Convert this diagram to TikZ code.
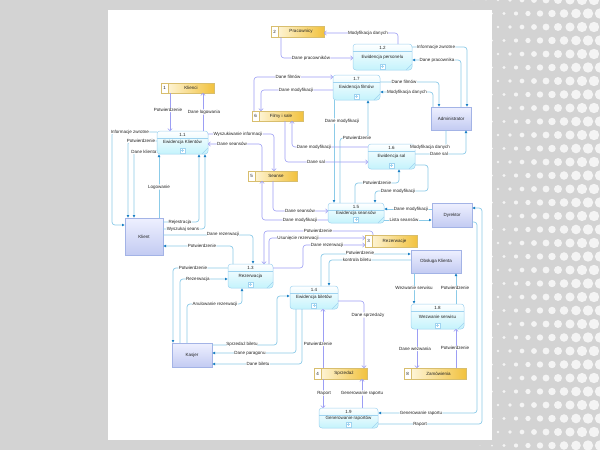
\documentclass[tikz,border=0pt]{standalone}
\usepackage{fontspec}
\setmainfont{Liberation Sans}
\usetikzlibrary{arrows.meta,calc}
\definecolor{bggray}{HTML}{D3D3D3}
\definecolor{dotcol}{HTML}{F4F4F4}
\definecolor{txtcol}{HTML}{222222}
\definecolor{procborder}{HTML}{9FD3F0}
\definecolor{procfill}{HTML}{C4F3FC}
\definecolor{entborder}{HTML}{A3B3E6}
\definecolor{enttop}{HTML}{EEF0FF}
\definecolor{entbot}{HTML}{C3CBF2}
\definecolor{stborder}{HTML}{D8BE6E}
\definecolor{stleft}{HTML}{FFFBEA}
\definecolor{stright}{HTML}{F2C23E}
\definecolor{blueline}{HTML}{8CCBE8}
\definecolor{bluearrow}{HTML}{1A7FC4}
\definecolor{purpline}{HTML}{9C9EF4}

\newcommand\procnode[7]{%
  \node[procshape, minimum width={(#4-#2)*1pt}, minimum height={(#5-#3)*1pt}] (#1) at ({(#2+#4)/2},{(#3+#5)/2}) {};
  \draw[procsep] ([yshift=-6.8pt]#1.north west) -- ([yshift=-6.8pt]#1.north east);
  \node[txt] at ([yshift=-3.6pt]#1.north) {#6};
  \node[txt] at ([yshift=-0.3pt]#1.center) {#7};
  \node[plusbox] at ([yshift=3.6pt]#1.south) {};
  \draw[procsep] ([yshift=3.6pt,xshift=-1.5pt]#1.south) -- ([yshift=3.6pt,xshift=1.5pt]#1.south);
  \draw[procsep] ([yshift=2.1pt]#1.south) -- ([yshift=5.1pt]#1.south);
  \draw[procsep] ([xshift=-6pt]#1.south east) -- ([yshift=6pt]#1.south east);
}
\newcommand\storenode[7]{%
  \node[stshape, minimum width={(#4-#2)*1pt}, minimum height={(#5-#3)*1pt}] (#1) at ({(#2+#4)/2},{(#3+#5)/2}) {};
  \fill[white] (#1.north west) rectangle ([xshift=7pt]#1.south west);
  \draw[stborder,line width=0.5pt] (#1.north west) rectangle (#1.south east);
  \draw[stborder,line width=0.5pt] ([xshift=7pt]#1.north west) -- ([xshift=7pt]#1.south west);
  \node[txt] at ([xshift=3.5pt]#1.west) {#6};
  \node[txt] at ([xshift=3.5pt]#1.center) {#7};
}
\newcommand\entnode[6]{%
  \node[entshape, minimum width={(#4-#2)*1pt}, minimum height={(#5-#3)*1pt}] (#1) at ({(#2+#4)/2},{(#3+#5)/2}) {};
  \node[txt] at (#1.center) {#6};
}

\begin{document}
\begin{tikzpicture}[x=1pt,y=-1pt,
  txt/.style={font=\fontsize{4.5}{5}\selectfont, text=txtcol, inner sep=0pt},
  lbl/.style={font=\fontsize{4.5}{5}\selectfont, text=txtcol, fill=white, inner sep=0.5pt},
  procshape/.style={draw=procborder, line width=0.5pt, rounded corners=3pt, top color=white, bottom color=procfill, inner sep=0pt, outer sep=0pt},
  procsep/.style={draw=procborder, line width=0.4pt},
  plusbox/.style={draw=procborder, line width=0.4pt, fill=white, minimum size=5pt, inner sep=0pt},
  stshape/.style={draw=stborder, line width=0.5pt, left color=stleft, right color=stright, inner sep=0pt, outer sep=0pt},
  entshape/.style={draw=entborder, line width=0.6pt, top color=enttop, bottom color=entbot, inner sep=0pt, outer sep=0pt},
  bf/.style={draw=blueline, line width=0.7pt, rounded corners=3pt, -{Latex[length=3pt,width=2.8pt,color=bluearrow]}},
  vf/.style={draw=purpline, line width=0.6pt, rounded corners=3pt, -{Straight Barb[length=2pt,width=4.4pt,line width=0.6pt]}}
]
\useasboundingbox (0,0) rectangle (600,450);
\fill[bggray] (0,0) rectangle (600,450);
\foreach \j in {0,...,33} {
  \foreach \i in {0,...,10} {
    \pgfmathsetmacro\xx{474+\i*12+mod(\j,2)*6}
    \pgfmathsetmacro\yy{\j*13.5}
    \pgfmathsetmacro\rr{max(0.4,min(5.2,(\xx-470)/22))}
    \fill[dotcol] (\xx,\yy) circle[radius=\rr];
  }
}
\fill[white] (108,10) rectangle (492,440);

% processes
\procnode{p12}{353}{44}{412}{70}{1.2}{Ewidencja personelu}
\procnode{p17}{333}{75}{380}{100}{1.7}{Ewidencja filmów}
\procnode{p11}{157}{131}{208}{154}{1.1}{Ewidencja Klientów}
\procnode{p16}{368}{144}{415}{169}{1.6}{Ewidencja sal}
\procnode{p15}{328}{203}{384}{223}{1.5}{Ewidencja seansów}
\procnode{p13}{228}{264}{273}{288}{1.3}{Rezerwacja}
\procnode{p14}{290}{286}{338}{309}{1.4}{Ewidencja biletów}
\procnode{p18}{411}{304}{464}{329}{1.8}{Wezwanie serwisu}
\procnode{p19}{319}{408}{378}{428}{1.9}{Generowanie raportów}

% entities
\entnode{admin}{431}{107}{471}{130}{Administrator}
\entnode{dyr}{432}{203}{472}{227}{Dyrektor}
\entnode{klient}{125}{218}{163}{255}{Klient}
\entnode{obs}{411}{250}{461}{273}{Obsługa Klienta}
\entnode{kasjer}{172}{343}{212}{367}{Kasjer}

% stores
\storenode{s2}{271}{26}{324}{37}{2}{Pracownicy}
\storenode{s1}{161}{83}{214}{93}{1}{Klienci}
\storenode{s6}{252}{111}{303}{121}{6}{Filmy i sale}
\storenode{s5}{248}{171}{297}{181}{5}{Seanse}
\storenode{s3}{365}{235}{417}{247}{3}{Rezerwacje}
\storenode{s4}{314}{368}{367}{379}{4}{Sprzedaż}
\storenode{s8}{404}{368}{466}{379}{8}{Zamówienia}

% --- connectors ---
\draw[vf] (p12.north -| 398,0) |- (s2.east |- 0,33) node[lbl] at (368,33) {Modyfikacja danych};
\draw[vf] (s2.south -| 281,0) |- (p12.west |- 0,58) node[lbl] at (311,58) {Dane pracowników};
\draw[bf] (p12.east |- 0,47) -| (admin.north -| 467,0) node[lbl] at (436,47) {Informacje zwrotne};
\draw[bf] (admin.north -| 461,0) |- (p12.east |- 0,60) node[lbl] at (437,60) {Dane pracownika};
\draw[bf] (p17.east |- 0,82) -| (admin.north -| 439,0) node[lbl] at (404,82) {Dane filmów};
\draw[bf] (admin.north -| 433,0) |- (p17.east |- 0,92) node[lbl] at (407,92) {Modyfikacja danych};
\draw[vf] (s6.north -| 254,0) |- (p17.west |- 0,77) node[lbl] at (288,77) {Dane filmów};
\draw[vf] (p17.west |- 0,90) -| (s6.north -| 261,0) node[lbl] at (296,90) {Dane modyfikacji};
\draw[bf] (p17.south -| 334,0) -- (p15.north -| 334,0) node[lbl] at (342,121) {Dane modyfikacji};
\draw[bf] (p15.north -| 340,0) -- (340,138) -| (p17.south -| 368,0) node[lbl] at (357,138) {Potwierdzenie};
\draw[vf] (p16.west |- 0,147) -| (s6.south -| 292,0) node[lbl] at (314,147) {Dane modyfikacji};
\draw[vf] (s6.south -| 285,0) |- (p16.west |- 0,162) node[lbl] at (316,162) {Dane sal};
\draw[bf] (admin.south -| 446,0) |- (p16.east |- 0,147) node[lbl] at (430,147) {Modyfikacja danych};
\draw[bf] (p16.east |- 0,154) -| (admin.south -| 466,0) node[lbl] at (439,154) {Dane sal};
\draw[bf] (p15.north -| 355,0) |- (399,183) -- (p16.south -| 399,0) node[lbl] at (377,183) {Potwierdzenie};
\draw[bf] (p16.east |- 0,165) -| (428,191) -| (p15.north -| 375,0) node[lbl] at (398,191) {Dane modyfikacji};

\draw[vf] (s1.south -| 170,0) -- (p11.north -| 170,0) node[lbl] at (168,110) {Potwierdzenie};
\draw[vf] (p11.north -| 203,0) -- (s1.south -| 203,0) node[lbl] at (204,112) {Dane logowania};
\draw[vf] (p11.east |- 0,134) -| (s5.north -| 274,0) node[lbl] at (238,134) {Wyszukiwanie informacji};
\draw[vf] (s5.north -| 262,0) |- (p11.east |- 0,144) node[lbl] at (232,144) {Dane seansów};
\draw[bf] (p11.west |- 0,132) -| (112,225) -- (klient.west |- 0,225) node[lbl] at (130,132) {Informacje zwrotne};
\draw[bf] (p11.west |- 0,141) -| (klient.north -| 128,0) node[lbl] at (141,141) {Potwierdzenie};
\draw[bf] (p11.west |- 0,151) -| (klient.north -| 134,0) node[lbl] at (144,152) {Dane klienta};
\draw[bf] (klient.north -| 159,0) -- (p11.south -| 159,0) node[lbl] at (159,187) {Logowanie};
\draw[bf] (klient.east |- 0,222) -| (p11.south -| 199,0) node[lbl] at (180,222) {Rejestracja};
\draw[bf] (klient.east |- 0,229) -| (p11.south -| 205,0) node[lbl] at (183,229) {Wyszukaj seans};

\draw[bf] (klient.east |- 0,235) -| (p13.north -| 253,0) node[lbl] at (223,234) {Dane rezerwacji};
\draw[bf] (p13.north -| 233,0) |- (klient.east |- 0,246) node[lbl] at (202,246) {Potwierdzenie};
\draw[bf] (p13.west |- 0,268) -| (kasjer.north -| 173,0) node[lbl] at (193,268) {Potwierdzenie};
\draw[bf] (kasjer.north -| 180,0) |- (p13.west |- 0,279) node[lbl] at (198,279) {Rezerwacja};
\draw[bf] (kasjer.north -| 187,0) |- (242,304) -- (p13.south -| 242,0) node[lbl] at (215,304) {Anulowanie rezerwacji};
\draw[bf] (kasjer.east |- 0,345) -| (277,296) -- (p14.west |- 0,296) node[lbl] at (242,344) {Sprzedaż biletu};
\draw[bf] (p14.south -| 296,0) |- (kasjer.east |- 0,353) node[lbl] at (250,353) {Dane paragonu};
\draw[bf] (p14.south -| 302,0) |- (kasjer.east |- 0,364) node[lbl] at (258,364) {Dane biletu};
\draw[vf] (s4.north -| 323,0) -- (p14.south -| 323,0) node[lbl] at (318,344) {Potwierdzenie};
\draw[vf] (p14.east |- 0,301) -| (s4.north -| 364,0) node[lbl] at (368,315) {Dane sprzedaży};

\draw[vf] (s3.north -| 373,0) |- (264,231) -- (p13.north -| 264,0) node[lbl] at (318,231) {Potwierdzenie};
\draw[vf] (p13.north -| 269,0) |- (s3.west |- 0,238) node[lbl] at (298,238) {Usunięcie rezerwacji};
\draw[vf] (p13.east |- 0,268) -| (303,245) -- (s3.west |- 0,245) node[lbl] at (327,245) {Dane rezerwacji};
\draw[bf] (obs.west |- 0,260) -| (p14.north -| 329,0) node[lbl] at (357,260) {kontrola biletu};
\draw[bf] (p14.north -| 321,0) |- (obs.west |- 0,254) node[lbl] at (360,253) {Potwierdzenie};
\draw[bf] (obs.south -| 414,0) -- (p18.north -| 414,0) node[lbl] at (414,288) {Wezwanie serwisu};
\draw[bf] (p18.north -| 456,0) -- (obs.south -| 456,0) node[lbl] at (455,288) {Potwierdzenie};
\draw[vf] (p18.south -| 417,0) -- (s8.north -| 417,0) node[lbl] at (415,349) {Dane wezwania};
\draw[vf] (s8.north -| 456,0) -- (p18.south -| 456,0) node[lbl] at (455,348) {Potwierdzenie};

\draw[vf] (s4.south -| 323,0) -- (p19.north -| 323,0) node[lbl] at (324,393) {Raport};
\draw[vf] (p19.north -| 362,0) -- (s4.south -| 362,0) node[lbl] at (362,393) {Generowanie raportu};
\draw[bf] (p19.east |- 0,424) -| (482,208) -- (dyr.east |- 0,208) node[lbl] at (420,424) {Raport};
\draw[bf] (dyr.east |- 0,222) -| (477,413) -- (p19.east |- 0,413) node[lbl] at (421,413) {Generowanie raportu};

\draw[bf] (dyr.west |- 0,209) -- (p15.east |- 0,209) node[lbl] at (411,209) {Dane modyfikacji};
\draw[bf] (p15.east |- 0,220) -- (dyr.west |- 0,220) node[lbl] at (404,220) {Lista seansów};
\draw[vf] (s5.south -| 273,0) |- (p15.west |- 0,211) node[lbl] at (300,211) {Dane seansów};
\draw[vf] (p15.west |- 0,220) -| (s5.south -| 262,0) node[lbl] at (300,220) {Dane modyfikacji};
\end{tikzpicture}
\end{document}
